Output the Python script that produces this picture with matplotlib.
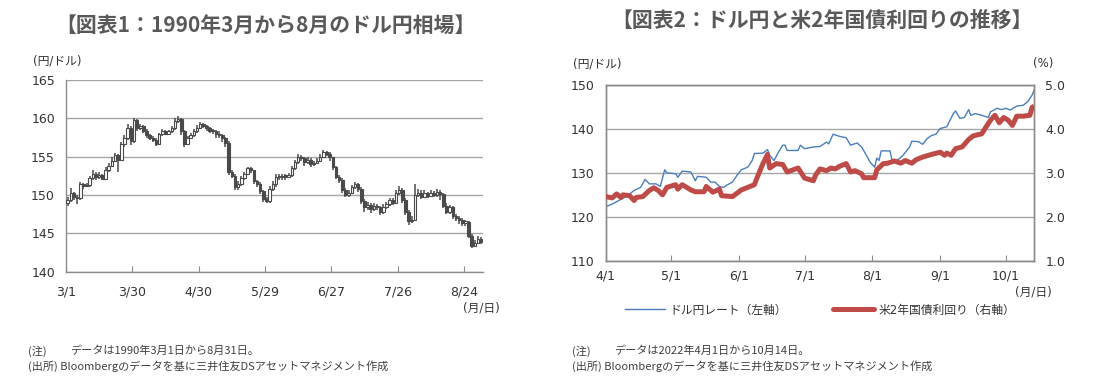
import matplotlib
matplotlib.use('Agg')
import matplotlib.pyplot as plt
from matplotlib.lines import Line2D
import pandas as pd

plt.rcParams['font.family'] = ['DejaVu Sans', 'Noto Sans CJK JP']

# ---- 図表1: 1990年3月～8月 ドル円 (日次 OHLC) ----
open0 = 149.0
close = [
    149.3, 150.2, 149.8, 149.6, 151.4, 151.2, 151.3, 152.2, 152.8, 152.3,
    152.6, 152.1, 153.3, 153.8, 154.5, 155.2, 154.6, 156.6, 157.5, 158.8,
    157.0, 159.8, 158.8, 159.0, 158.4, 157.8, 157.5, 157.2, 156.6, 157.9,
    158.3, 158.0, 158.3, 158.7, 159.7, 159.9, 158.3, 156.7, 157.5, 157.8,
    158.3, 158.8, 159.2, 159.0, 158.7, 158.4, 158.3, 158.0, 157.8, 157.5,
    156.8, 153.0, 152.5, 151.0, 151.5, 152.2, 152.8, 153.5, 153.2, 151.8,
    151.5, 150.5, 149.5, 149.2, 150.8, 151.5, 152.4, 152.3, 152.4, 152.4,
    152.6, 153.5, 154.3, 155.0, 154.8, 154.3, 154.6, 154.0, 154.2, 154.5,
    155.0, 155.6, 155.4, 154.9, 153.6, 152.4, 152.0, 150.6, 150.0, 150.3,
    151.0, 151.4, 150.8, 149.2, 148.4, 148.7, 148.2, 148.6, 148.4, 147.8,
    148.5, 148.8, 149.3, 149.0, 150.3, 150.7, 149.4, 147.8, 146.6, 146.8,
    150.0, 150.3, 149.8, 150.2, 149.9, 150.3, 150.0, 150.4, 150.1, 148.6,
    147.8, 148.4, 147.2, 147.0, 146.8, 146.4, 146.5, 144.7, 143.4, 143.8,
    144.2, 143.9]
high = [
    149.8, 150.9, 150.4, 150.0, 151.7, 151.6, 151.6, 152.5, 153.3, 153.0,
    153.0, 152.8, 153.6, 154.2, 154.9, 155.5, 155.4, 156.9, 157.8, 159.2,
    159.0, 160.1, 159.9, 159.3, 159.1, 158.6, 158.0, 157.7, 157.4, 158.1,
    158.6, 158.5, 158.5, 159.0, 160.0, 160.3, 160.0, 158.5, 157.7, 158.1,
    158.6, 159.1, 159.5, 159.4, 159.1, 158.9, 158.6, 158.5, 158.3, 158.0,
    157.6, 157.0, 153.3, 152.7, 151.8, 152.5, 153.0, 153.7, 153.6, 153.3,
    152.0, 151.7, 150.7, 149.8, 151.2, 151.8, 152.7, 152.8, 152.7, 152.8,
    152.9, 153.8, 154.6, 155.3, 155.2, 155.0, 154.9, 154.8, 154.5, 154.8,
    155.3, 155.9, 155.8, 155.6, 155.0, 153.8, 152.6, 152.2, 150.9, 150.7,
    151.3, 151.7, 151.6, 151.0, 149.5, 149.1, 149.0, 148.9, 148.8, 148.6,
    148.8, 149.1, 149.6, 149.6, 150.7, 151.2, 150.9, 149.6, 148.1, 147.3,
    151.5, 150.8, 150.6, 150.6, 150.4, 150.7, 150.5, 150.8, 150.6, 150.2,
    148.9, 148.7, 148.6, 147.5, 147.2, 147.0, 146.8, 146.6, 144.9, 144.1,
    144.6, 144.5]
low = [
    148.6, 149.1, 149.4, 148.8, 149.4, 150.8, 151.0, 151.1, 152.0, 152.0,
    152.1, 151.9, 151.9, 153.0, 153.6, 154.3, 153.0, 154.4, 156.3, 157.2,
    156.5, 156.8, 158.4, 158.5, 158.1, 157.5, 157.2, 156.9, 156.4, 156.5,
    157.7, 157.8, 157.8, 158.1, 158.5, 159.4, 157.8, 156.3, 156.5, 157.3,
    157.6, 158.1, 158.6, 158.7, 158.4, 158.1, 157.9, 157.5, 157.4, 156.9,
    156.3, 152.6, 152.2, 150.6, 150.7, 151.2, 151.9, 152.6, 152.9, 151.5,
    151.0, 150.1, 149.1, 148.9, 149.0, 150.5, 151.0, 152.0, 152.0, 152.0,
    152.2, 152.4, 153.2, 154.0, 154.4, 153.8, 154.0, 153.7, 153.8, 154.0,
    154.3, 154.8, 155.1, 154.5, 153.3, 152.1, 151.6, 150.3, 149.7, 149.8,
    150.1, 150.8, 150.4, 148.8, 147.8, 148.1, 147.6, 147.9, 148.0, 147.4,
    147.5, 148.2, 148.6, 148.7, 148.8, 150.0, 149.0, 147.4, 146.1, 146.3,
    146.6, 149.7, 149.5, 149.6, 149.6, 149.7, 149.7, 149.8, 149.4, 148.3,
    147.5, 147.5, 146.9, 146.6, 146.2, 146.0, 146.0, 144.4, 143.1, 143.2,
    143.6, 143.6]
opn = [open0] + close[:-1]
tick_days = [0, 21, 42, 63, 84, 105, 126]
tick_labels1 = ['3/1', '3/30', '4/30', '5/29', '6/27', '7/26', '8/24']

# ---- 図表2: 2022年4月～10月 ドル円と米2年国債利回り ----
usd_dates = ['04-01', '04-04', '04-07', '04-11', '04-14', '04-17', '04-19', '04-21', '04-24', '04-26', '04-28', '04-29',
             '05-03', '05-04', '05-06', '05-10', '05-12', '05-13', '05-17', '05-19', '05-21', '05-23', '05-25', '05-26', '05-29', '05-31',
             '06-02', '06-05', '06-07', '06-08', '06-12', '06-14', '06-15', '06-17', '06-19', '06-21', '06-22', '06-23', '06-28', '06-29',
             '07-01', '07-05', '07-08', '07-11', '07-12', '07-14', '07-17', '07-20', '07-22', '07-25', '07-27', '07-29', '07-31',
             '08-02', '08-03', '08-04', '08-05', '08-09', '08-10', '08-13', '08-15', '08-18', '08-19', '08-22', '08-24', '08-26', '08-28', '08-30',
             '09-01', '09-04', '09-07', '09-08', '09-10', '09-12', '09-14', '09-15', '09-17', '09-20', '09-23', '09-24', '09-27', '09-29',
             '10-01', '10-03', '10-06', '10-09', '10-11', '10-13', '10-14']
usd_jpy = [122.3, 122.9, 123.7, 124.8, 126.0, 126.7, 128.5, 127.5, 127.5, 126.9, 130.7, 130.0,
           129.8, 129.0, 130.4, 130.2, 128.2, 129.2, 129.0, 127.9, 127.9, 126.9, 126.7, 127.1, 127.9, 129.4,
           130.7, 131.3, 132.8, 134.4, 134.5, 135.3, 134.0, 132.8, 134.7, 136.3, 136.3, 135.1, 135.1, 136.3,
           135.5, 135.9, 136.0, 137.0, 136.6, 138.8, 138.3, 138.0, 136.3, 136.8, 135.9, 134.2, 132.4,
           131.3, 133.4, 132.8, 135.0, 135.0, 132.8, 133.1, 134.0, 135.9, 137.2, 137.1, 136.5, 137.8, 138.5, 138.8,
           140.1, 140.5, 143.5, 144.1, 142.4, 142.6, 144.4, 143.1, 143.5, 143.1, 142.6, 143.9, 144.7, 144.4,
           144.7, 144.3, 145.2, 145.4, 146.2, 147.7, 148.9]
y2_dates = ['04-01', '04-04', '04-06', '04-08', '04-09', '04-12', '04-14', '04-15', '04-18', '04-21', '04-23', '04-25', '04-27', '04-29',
            '05-03', '05-04', '05-06', '05-10', '05-12', '05-16', '05-17', '05-20', '05-23', '05-24', '05-29',
            '06-02', '06-05', '06-08', '06-09', '06-12', '06-14', '06-15', '06-18', '06-21', '06-23', '06-28',
            '07-01', '07-05', '07-06', '07-08', '07-11', '07-13', '07-15', '07-17', '07-20', '07-22', '07-24', '07-27', '07-28',
            '08-02', '08-03', '08-06', '08-08', '08-11', '08-14', '08-16', '08-19', '08-21', '08-24', '08-28',
            '09-01', '09-03', '09-04', '09-06', '09-08', '09-11', '09-14', '09-16', '09-20', '09-22', '09-24', '09-26', '09-28', '09-30',
            '10-02', '10-04', '10-06', '10-09', '10-12', '10-13', '10-14']
us2y = [2.46, 2.43, 2.52, 2.44, 2.50, 2.48, 2.37, 2.44, 2.46, 2.60, 2.66, 2.60, 2.50, 2.67,
        2.73, 2.63, 2.73, 2.61, 2.57, 2.57, 2.69, 2.56, 2.63, 2.48, 2.46,
        2.61, 2.67, 2.73, 2.86, 3.22, 3.42, 3.11, 3.21, 3.19, 3.02, 3.11,
        2.88, 2.82, 2.95, 3.09, 3.05, 3.11, 3.09, 3.15, 3.21, 3.02, 3.05, 2.98, 2.89,
        2.89, 3.07, 3.21, 3.22, 3.27, 3.22, 3.28, 3.22, 3.30, 3.36, 3.42,
        3.47, 3.40, 3.45, 3.40, 3.55, 3.59, 3.76, 3.84, 3.89, 4.05, 4.20, 4.31, 4.14, 4.26,
        4.20, 4.08, 4.29, 4.29, 4.31, 4.49, 4.52]
month_ticks = ['04-01', '05-01', '06-01', '07-01', '08-01', '09-01', '10-01']
tick_labels2 = ['4/1', '5/1', '6/1', '7/1', '8/1', '9/1', '10/1']

title_color = '#595959'
text_color = '#333333'
grid_color = '#a6a6a6'
axis_color = '#8c8c8c'
candle_color = '#4a4a4a'

fig = plt.figure(figsize=(10.99, 3.81), dpi=100)

# ================= 左: ローソク足 =================
ax1 = fig.add_axes([0.0601, 0.2869, 0.3792, 0.5031])
xs = [i + 0.5 for i in range(len(close))]
ax1.vlines(xs, low, high, color=candle_color, lw=1.1, zorder=2)
bottoms = [min(o, c) for o, c in zip(opn, close)]
heights = [max(abs(c - o), 0.15) for o, c in zip(opn, close)]
faces = ['white' if c > o else candle_color for o, c in zip(opn, close)]
ax1.bar(xs, heights, bottom=bottoms, width=0.8, color=faces,
        edgecolor=candle_color, linewidth=0.8, zorder=3)
ax1.set_xlim(0, 132)
ax1.set_ylim(140, 165)
ax1.set_yticks([140, 145, 150, 155, 160, 165])
ax1.set_xticks(tick_days)
ax1.set_xticklabels(tick_labels1)
ax1.grid(axis='y', color=grid_color, lw=1.0)
ax1.set_axisbelow(True)
for s in ['top', 'right']:
    ax1.spines[s].set_visible(False)
for s in ['left', 'bottom']:
    ax1.spines[s].set_color(axis_color)
    ax1.spines[s].set_linewidth(1.0)
ax1.tick_params(axis='y', length=0, pad=8, labelsize=9, labelcolor=text_color)
ax1.tick_params(axis='x', direction='in', length=4, color=axis_color, pad=10,
                labelsize=9, labelcolor=text_color)
fig.text(33 / 1099, 1 - 61 / 381, '(円/ドル)', fontsize=8.5, color=text_color, va='center')
fig.text(500 / 1099, 1 - 308 / 381, '(月/日)', fontsize=8.5, color=text_color, va='center', ha='right')
fig.text(265 / 1099, 1 - 25 / 381, '【図表1：1990年3月から8月のドル円相場】', fontsize=15,
         fontweight='bold', color=title_color, ha='center', va='center',
         family=['Noto Sans CJK JP'])

# ================= 右: ドル円と米2年債 =================
ax2 = fig.add_axes([0.5511, 0.3157, 0.39, 0.4612])
d_usd = pd.to_datetime(['2022-' + d for d in usd_dates])
d_y2 = pd.to_datetime(['2022-' + d for d in y2_dates])
ax2.plot(d_usd, usd_jpy, color='#4a7ebb', lw=1.0, zorder=3)
ax2.set_ylim(110, 150)
ax2.set_yticks([110, 120, 130, 140, 150])
ax2.set_xlim(pd.Timestamp('2022-04-01'), pd.Timestamp('2022-10-14'))
ax2.set_xticks(pd.to_datetime(['2022-' + d for d in month_ticks]))
ax2.set_xticklabels(tick_labels2)
ax2.grid(axis='y', color=grid_color, lw=1.0)
ax2.set_axisbelow(True)
for s in ax2.spines.values():
    s.set_color(axis_color)
    s.set_linewidth(1.0)
ax2.tick_params(axis='y', length=0, pad=8, labelsize=9, labelcolor=text_color)
ax2.tick_params(axis='x', direction='in', length=4, color=axis_color, pad=6,
                labelsize=9, labelcolor=text_color)

ax3 = ax2.twinx()
ax3.plot(d_y2, us2y, color='#be4b48', lw=3.6, solid_capstyle='butt', zorder=4)
ax3.set_ylim(1.0, 5.0)
ax3.set_yticks([1.0, 2.0, 3.0, 4.0, 5.0])
ax3.set_yticklabels(['1.0', '2.0', '3.0', '4.0', '5.0'])
for s in ax3.spines.values():
    s.set_color(axis_color)
    s.set_linewidth(1.0)
ax3.tick_params(axis='y', length=0, pad=8, labelsize=9, labelcolor=text_color)

fig.text(573 / 1099, 1 - 64 / 381, '(円/ドル)', fontsize=8.5, color=text_color, va='center')
fig.text(1033 / 1099, 1 - 64 / 381, '(%)', fontsize=8.5, color=text_color, va='center')
fig.text(1052 / 1099, 1 - 292 / 381, '(月/日)', fontsize=8.5, color=text_color, va='center', ha='right')
fig.text(822 / 1099, 1 - 20 / 381, '【図表2：ドル円と米2年国債利回りの推移】', fontsize=15,
         fontweight='bold', color=title_color, ha='center', va='center',
         family=['Noto Sans CJK JP'])

handles = [Line2D([], [], color='#4a7ebb', lw=1.0),
           Line2D([], [], color='#be4b48', lw=3.6, solid_capstyle='round')]
fig.legend(handles, ['ドル円レート（左軸）', '米2年国債利回り（右軸）'],
           loc='center', bbox_to_anchor=(820 / 1099, 1 - 310 / 381), ncol=2,
           frameon=False, fontsize=8.5, handlelength=3.4, columnspacing=3.9,
           handletextpad=0.4, labelcolor=text_color)

# ================= 注記 =================
note_kw = dict(fontsize=8, color='#404040', va='center', family=['Noto Sans CJK JP'])
fig.text(28 / 1099, 1 - 351 / 381, '(注)', **note_kw)
fig.text(70 / 1099, 1 - 351 / 381, 'データは1990年3月1日から8月31日。', **note_kw)
fig.text(28 / 1099, 1 - 366 / 381, '(出所) Bloombergのデータを基に三井住友DSアセットマネジメント作成', **note_kw)
fig.text(572 / 1099, 1 - 351 / 381, '(注)', **note_kw)
fig.text(614 / 1099, 1 - 351 / 381, 'データは2022年4月1日から10月14日。', **note_kw)
fig.text(572 / 1099, 1 - 366 / 381, '(出所) Bloombergのデータを基に三井住友DSアセットマネジメント作成', **note_kw)

fig.savefig('out.png', dpi=100)
